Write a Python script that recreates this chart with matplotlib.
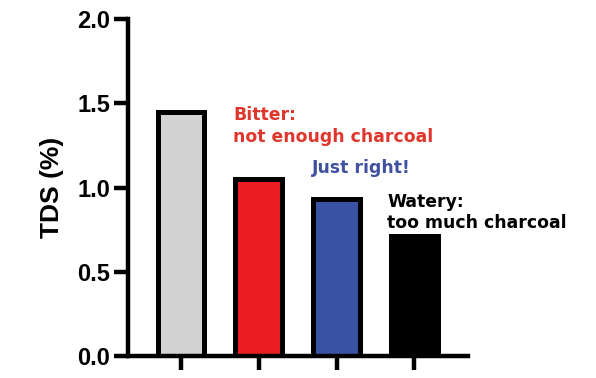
import matplotlib
matplotlib.use("Agg")
import matplotlib.pyplot as plt

# TDS values
groups = ["control", "bitter", "just right", "watery"]
tds = [1.45, 1.05, 0.93, 0.71]
bar_colors = ["#d3d3d3", "#ec1c24", "#3a53a4", "#000000"]
y_ticks = [0.0, 0.5, 1.0, 1.5, 2.0]

# annotation lines: (text, x, y, colour)
notes = [
    ("Bitter:", 0.67, 1.40, "#e0362c"),
    ("not enough charcoal", 0.67, 1.27, "#e0362c"),
    ("Just right!", 1.69, 1.086, "#3f51a0"),
    ("Watery:", 2.65, 0.884, "#000000"),
    ("too much charcoal", 2.65, 0.76, "#000000"),
]

fig = plt.figure(figsize=(5.96, 3.78), dpi=100)
ax = fig.add_axes([0.2148, 0.0582, 0.5705, 0.8915])

x = range(len(groups))
ax.bar(x, tds, width=0.6, color=bar_colors, edgecolor="black", linewidth=3.6, zorder=2)

for txt, tx, ty, col in notes:
    ax.text(tx, ty, txt, color=col, fontsize=12.4, fontweight="bold",
            family="DejaVu Sans", va="baseline", ha="left", clip_on=False)

ax.set_xlim(-0.68, 3.69)
ax.set_ylim(0, 2.0)
ax.set_yticks(y_ticks)
ax.set_yticklabels([f"{v:.1f}" for v in y_ticks])
ax.set_xticks(list(x))
ax.set_xticklabels([])

for side in ["top", "right"]:
    ax.spines[side].set_visible(False)
for side in ["left", "bottom"]:
    ax.spines[side].set_linewidth(3.2)

ax.tick_params(axis="both", width=3.2, length=10, direction="out", color="black")
ax.tick_params(axis="y", labelsize=17, pad=3)
for lab in ax.get_yticklabels():
    lab.set_fontweight("bold")
    lab.set_family("Liberation Sans")

ax.set_ylabel("TDS (%)", fontsize=19, fontweight="bold", family="Liberation Sans", labelpad=9)

fig.savefig("out.png", dpi=100)
